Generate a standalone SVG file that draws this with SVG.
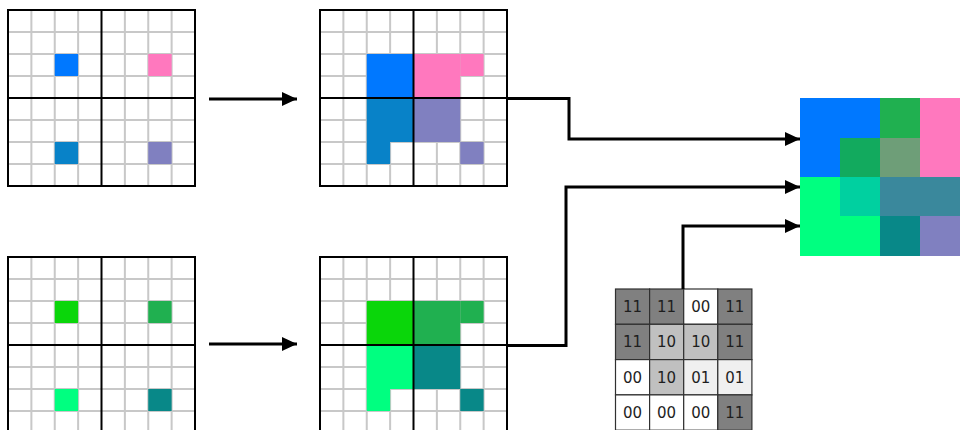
<svg xmlns="http://www.w3.org/2000/svg" xmlns:xlink="http://www.w3.org/1999/xlink" width="964" height="430" viewBox="0 0 964 430">
  <style>
    .thin { fill: none; stroke: #c8c8c8; stroke-width: 2; }
    .thick { fill: none; stroke: #000; stroke-width: 2; }
    .conn { fill: none; stroke: #000; stroke-width: 3; }
    .cell { stroke: #303030; stroke-width: 1.2; }
    .num { font-family: "DejaVu Sans", "Liberation Sans", sans-serif; font-size: 15px; fill: #1e1e1e; text-anchor: middle; dominant-baseline: central; }
    .c-blue { fill: #0078ff; }
    .c-pink { fill: #ff78be; }
    .c-cyan { fill: #0882c8; }
    .c-purple { fill: #8080c0; }
    .c-green { fill: #0ad60a; }
    .c-mgreen { fill: #20b050; }
    .c-lgreen { fill: #00ff80; }
    .c-teal { fill: #088888; }
    .g11 { fill: #808080; }
    .g10 { fill: #c0c0c0; }
    .g01 { fill: #f0f0f0; }
    .g00 { fill: #ffffff; }
  </style>
  <defs>
    <marker id="arrow" markerUnits="userSpaceOnUse" markerWidth="16" markerHeight="14" refX="15" refY="7" orient="auto">
      <path d="M0,0 L15,7 L0,14 Z" fill="#000"/>
    </marker>
    <!-- 8x8 cell grid, 23.375 x 22 per cell -->
    <path id="thin-lines" class="thin" d="M23.375,0 V176 M46.75,0 V176 M70.125,0 V176 M116.875,0 V176 M140.25,0 V176 M163.625,0 V176 M0,22 H187 M0,44 H187 M0,66 H187 M0,110 H187 M0,132 H187 M0,154 H187"/>
    <path id="thick-lines" class="thick" d="M0,0 H187 V176 H0 Z M93.5,0 V176 M0,88 H187"/>
  </defs>

  <rect width="964" height="430" fill="#fff"/>

  <!-- top input grid -->
  <g id="grid-top-in" transform="translate(8,10)">
    <rect width="187" height="176" fill="#fff"/>
    <use href="#thin-lines"/>
    <rect class="c-blue" x="46.75" y="44" width="23.375" height="22"/>
    <rect class="c-pink" x="140.25" y="44" width="23.375" height="22"/>
    <rect class="c-cyan" x="46.75" y="132" width="23.375" height="22"/>
    <rect class="c-purple" x="140.25" y="132" width="23.375" height="22"/>
    <use href="#thick-lines"/>
  </g>

  <!-- top expanded grid -->
  <g id="grid-top-out" transform="translate(320,10)">
    <rect width="187" height="176" fill="#fff"/>
    <use href="#thin-lines"/>
    <rect class="c-blue" x="46.75" y="44" width="46.75" height="44"/>
    <rect class="c-pink" x="93.5" y="44" width="46.75" height="44"/>
    <rect class="c-pink" x="140.25" y="44" width="23.375" height="22"/>
    <rect class="c-cyan" x="46.75" y="88" width="46.75" height="44"/>
    <rect class="c-cyan" x="46.75" y="132" width="23.375" height="22"/>
    <rect class="c-purple" x="93.5" y="88" width="46.75" height="44"/>
    <rect class="c-purple" x="140.25" y="132" width="23.375" height="22"/>
    <use href="#thick-lines"/>
  </g>

  <!-- bottom input grid -->
  <g id="grid-bottom-in" transform="translate(8,257)">
    <rect width="187" height="176" fill="#fff"/>
    <use href="#thin-lines"/>
    <rect class="c-green" x="46.75" y="44" width="23.375" height="22"/>
    <rect class="c-mgreen" x="140.25" y="44" width="23.375" height="22"/>
    <rect class="c-lgreen" x="46.75" y="132" width="23.375" height="22"/>
    <rect class="c-teal" x="140.25" y="132" width="23.375" height="22"/>
    <use href="#thick-lines"/>
  </g>

  <!-- bottom expanded grid -->
  <g id="grid-bottom-out" transform="translate(320,257)">
    <rect width="187" height="176" fill="#fff"/>
    <use href="#thin-lines"/>
    <rect class="c-green" x="46.75" y="44" width="46.75" height="44"/>
    <rect class="c-mgreen" x="93.5" y="44" width="46.75" height="44"/>
    <rect class="c-mgreen" x="140.25" y="44" width="23.375" height="22"/>
    <rect class="c-lgreen" x="46.75" y="88" width="46.75" height="44"/>
    <rect class="c-lgreen" x="46.75" y="132" width="23.375" height="22"/>
    <rect class="c-teal" x="93.5" y="88" width="46.75" height="44"/>
    <rect class="c-teal" x="140.25" y="132" width="23.375" height="22"/>
    <use href="#thick-lines"/>
  </g>

  <!-- blended 4x4 result -->
  <g id="blend-result" transform="translate(800,98)">
    <rect x="0" y="0" width="80" height="79" class="c-blue"/>
    <rect x="80" y="0" width="40" height="40" class="c-mgreen"/>
    <rect x="120" y="0" width="40" height="79" class="c-pink"/>
    <rect x="40" y="40" width="40" height="39" fill="#12aa5e"/>
    <rect x="80" y="40" width="40" height="39" fill="#6e9e78"/>
    <rect x="0" y="79" width="40" height="79" class="c-lgreen"/>
    <rect x="40" y="79" width="40" height="39" fill="#00d0a0"/>
    <rect x="80" y="79" width="80" height="39" fill="#3a889c"/>
    <rect x="40" y="118" width="40" height="40" class="c-lgreen"/>
    <rect x="80" y="118" width="40" height="40" class="c-teal"/>
    <rect x="120" y="118" width="40" height="40" class="c-purple"/>
  </g>

  <!-- 2-bit selection mask -->
  <g id="mask" transform="translate(615.5,289)">
    <rect class="cell g11" x="0" y="0" width="34.1" height="35.3"/>
    <rect class="cell g11" x="34.1" y="0" width="34.1" height="35.3"/>
    <rect class="cell g00" x="68.2" y="0" width="34.1" height="35.3"/>
    <rect class="cell g11" x="102.3" y="0" width="34.1" height="35.3"/>
    <rect class="cell g11" x="0" y="35.3" width="34.1" height="35.3"/>
    <rect class="cell g10" x="34.1" y="35.3" width="34.1" height="35.3"/>
    <rect class="cell g10" x="68.2" y="35.3" width="34.1" height="35.3"/>
    <rect class="cell g11" x="102.3" y="35.3" width="34.1" height="35.3"/>
    <rect class="cell g00" x="0" y="70.6" width="34.1" height="35.3"/>
    <rect class="cell g10" x="34.1" y="70.6" width="34.1" height="35.3"/>
    <rect class="cell g01" x="68.2" y="70.6" width="34.1" height="35.3"/>
    <rect class="cell g01" x="102.3" y="70.6" width="34.1" height="35.3"/>
    <rect class="cell g00" x="0" y="105.9" width="34.1" height="35.3"/>
    <rect class="cell g00" x="34.1" y="105.9" width="34.1" height="35.3"/>
    <rect class="cell g00" x="68.2" y="105.9" width="34.1" height="35.3"/>
    <rect class="cell g11" x="102.3" y="105.9" width="34.1" height="35.3"/>
    <text class="num" x="17" y="18">11</text>
    <text class="num" x="51.1" y="18">11</text>
    <text class="num" x="85.2" y="18">00</text>
    <text class="num" x="119.3" y="18">11</text>
    <text class="num" x="17" y="53.3">11</text>
    <text class="num" x="51.1" y="53.3">10</text>
    <text class="num" x="85.2" y="53.3">10</text>
    <text class="num" x="119.3" y="53.3">11</text>
    <text class="num" x="17" y="88.6">00</text>
    <text class="num" x="51.1" y="88.6">10</text>
    <text class="num" x="85.2" y="88.6">01</text>
    <text class="num" x="119.3" y="88.6">01</text>
    <text class="num" x="17" y="123.9">00</text>
    <text class="num" x="51.1" y="123.9">00</text>
    <text class="num" x="85.2" y="123.9">00</text>
    <text class="num" x="119.3" y="123.9">11</text>
  </g>

  <!-- connectors -->
  <g id="connectors" class="conn">
    <path d="M209,99 H297" marker-end="url(#arrow)"/>
    <path d="M209,344 H297" marker-end="url(#arrow)"/>
    <path d="M507,98.5 H569 V139 H800" marker-end="url(#arrow)"/>
    <path d="M507,345.5 H566 V187 H800" marker-end="url(#arrow)"/>
    <path d="M683,289 V226 H800" marker-end="url(#arrow)"/>
  </g>
</svg>
